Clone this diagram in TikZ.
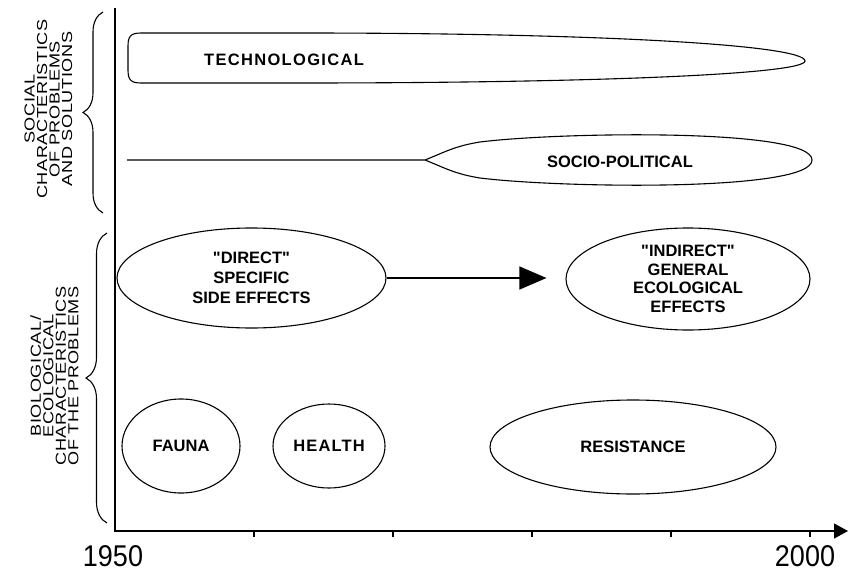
\documentclass[tikz,border=0pt]{standalone}
\usepackage{fontspec}
\setmainfont[Ligatures=TeXOff]{Liberation Sans}
\newfontfamily\sidefont[FakeStretch=1.25,LetterSpace=4]{Liberation Sans}
\newfontfamily\yearfont[FakeStretch=0.9]{Liberation Sans}
\usetikzlibrary{arrows.meta,decorations.pathreplacing,positioning,shapes.geometric}
\tikzset{every picture/.style={
  line width=1.1pt              % Thin pen, as in the print.
  }
}

\begin{document}
\begin{tikzpicture}[
      x=1pt, y=-1pt,
      lbl/.style={
        font=\bfseries\fontsize{16.5}{20}\selectfont,
        align=center
      },
      blob/.style={
        draw,
        ellipse,
        inner sep=0pt,
        lbl
      },
      side/.style={
        rotate=90,
        align=center,
        font=\sidefont\fontsize{14.5}{12.5}\selectfont
      },
      year/.style={font=\yearfont\fontsize{30}{30}\selectfont}]

      \useasboundingbox (0,0) rectangle (850,572);

      % Draw the time axes.
      \coordinate (ytop) at (115,8);
      \coordinate (origin) at (115,531);
      \coordinate (xend) at (848,531);
      \draw[-{Triangle[length=14pt,width=15pt]}] (ytop) -- (origin) -- (xend);
      \foreach \k in {1,...,5}
        \draw (115+139*\k,531) -- ++(0,6);
      \node[year] (y1950) at (113,556) {1950};
      \node[year] (y2000) at (805,556) {2000};

      % Draw the braces and their labels.
      \draw[decorate, decoration={brace, amplitude=20pt}] (103,213) -- (103,12);
      \draw[decorate, decoration={brace, amplitude=21pt}] (107,523) -- (107,233);
      \node[side] (social) at (48.5,109)
        {SOCIAL\\CHARACTERISTICS\\OF PROBLEMS\\AND SOLUTIONS};
      \node[side] (biol) at (54.5,376)
        {BIOLOGICAL/\\ECOLOGICAL\\CHARACTERISTICS\\OF THE PROBLEMS};

      % Social characteristics.
      \draw (300,33)
        .. controls (600,33) and (805,45) .. (805,61)
        .. controls (805,74) and (600,83) .. (300,83)
        -- (141,83) .. controls (131,83) and (128,80) .. (128,70)
        -- (128,46) .. controls (128,36) and (131,33) .. (141,33) -- cycle;
      \node[lbl] (tech) at (284,60) {\addfontfeature{LetterSpace=8}TECHNOLOGICAL};

      \coordinate (sstart) at (127,160);
      \coordinate (fork) at (425,160);
      \draw (sstart) -- (fork)
        .. controls (445,152) and (455,146) .. (480,142)
        .. controls (560,132) and (812,128) .. (812,160)
        .. controls (812,192) and (560,188) .. (480,178)
        .. controls (455,174) and (445,168) .. (fork);
      \node[lbl] (socio) at (620,162) {SOCIO-POLITICAL};

      % Biological/ecological characteristics.
      \node[blob, minimum width=269pt, minimum height=100pt] (direct)
        at (251.5,278) {"DIRECT"\\SPECIFIC\\SIDE EFFECTS};
      \node[blob, minimum width=244pt, minimum height=102pt,
        font=\bfseries\fontsize{16.5}{18.5}\selectfont] (indirect)
        at (688,279) {"INDIRECT"\\GENERAL\\ECOLOGICAL\\EFFECTS};
      \draw[-{Triangle[length=27pt,width=23pt]}, shorten >=19pt]
        (direct.east) -- (direct.east -| indirect.west);

      \node[blob, minimum width=118pt, minimum height=94pt] (fauna)
        at (181,446) {FAUNA};
      \node[blob, minimum width=112pt, minimum height=84pt] (health)
        at (329,446) {\addfontfeature{LetterSpace=7}HEALTH};
      \node[blob, minimum width=286pt, minimum height=94pt] (resist)
        at (633,447) {RESISTANCE};

    \end{tikzpicture}
\end{document}
